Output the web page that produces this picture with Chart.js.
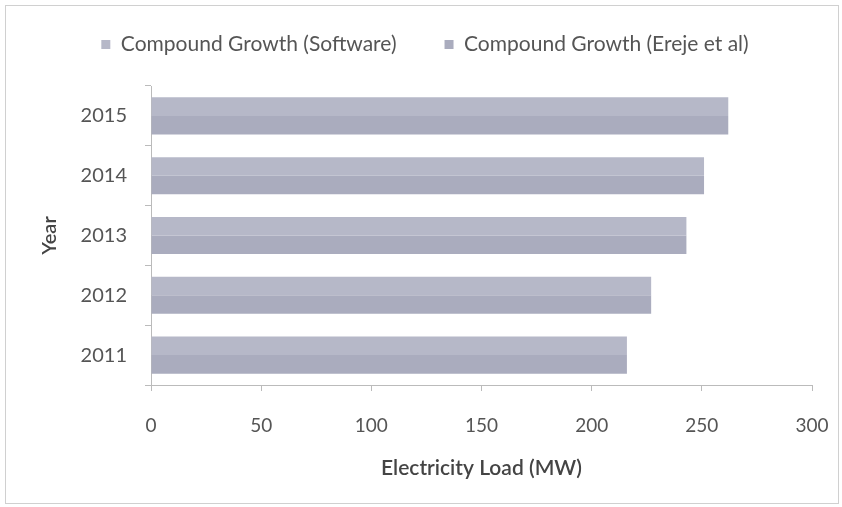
<!DOCTYPE html>
<html>
<head>
<meta charset="utf-8">
<script src="https://cdn.jsdelivr.net/npm/chart.js@4.4.1/dist/chart.umd.min.js"></script>
<style>
  html, body { margin: 0; padding: 0; background: #fff; }
  #wrap { width: 842px; height: 507px; position: relative; }
</style>
</head>
<body>
<div id="wrap"><canvas id="loadChart" width="842" height="507"></canvas></div>
<script>
// Data
const years = ['2011', '2012', '2013', '2014', '2015'];
const softwareLoad = [216, 227, 243, 251, 262];
const erejeLoad = [216, 227, 243, 251, 262];
const xTicks = [0, 50, 100, 150, 200, 250, 300];

const fontFamily = 'Lato, "Open Sans", sans-serif';

// faint frame round the whole chart, as in the scan
const framePlugin = {
    id: 'frame',
    beforeDraw(chart) {
        const ctx = chart.ctx;
        ctx.save();
        ctx.fillStyle = '#ffffff';
        ctx.fillRect(0, 0, chart.width, chart.height);
        ctx.strokeStyle = '#d0d0d0';
        ctx.lineWidth = 1;
        ctx.strokeRect(5.5, 5.5, chart.width - 9, chart.height - 9);
        ctx.restore();
    }
};

// more room between the legend and the bars
const legendGapPlugin = {
    id: 'legendGap',
    beforeInit(chart) {
        const origFit = chart.legend.fit;
        chart.legend.fit = function() {
            origFit.bind(chart.legend)();
            this.height += 21;
        };
    }
};

const ctx = document.getElementById('loadChart').getContext('2d');
const chart = new Chart(ctx, {
    type: 'bar',
    data: {
        labels: years,
        datasets: [{
            label: 'Compound Growth (Software)',
            data: softwareLoad,
            backgroundColor: 'rgba(182, 184, 200, 1)',
            borderWidth: 0
        }, {
            label: 'Compound Growth (Ereje et al)',
            data: erejeLoad,
            backgroundColor: 'rgba(170, 172, 190, 1)',
            borderWidth: 0
        }]
    },
    options: {
        indexAxis: 'y',
        responsive: false,
        animation: false,
        layout: {
            padding: { left: 38, right: 30, top: -14, bottom: 26 }
        },
        datasets: {
            bar: { categoryPercentage: 0.62, barPercentage: 1.0 }
        },
        scales: {
            x: {
                min: 0,
                max: 300,
                afterBuildTicks: function(scale) {
                    scale.ticks = xTicks.map(v => ({ value: v }));
                },
                afterFit: function(scale) {
                    scale.height = 96;
                    scale.paddingRight = 0;
                },
                grid: {
                    drawOnChartArea: false,
                    color: '#bbbbbb',
                    tickLength: 6
                },
                border: { color: '#bbbbbb' },
                ticks: {
                    padding: 23,
                    color: '#555',
                    font: { family: fontFamily, size: 19 }
                },
                title: {
                    display: true,
                    text: 'Electricity Load (MW)',
                    color: '#444',
                    padding: { top: 0, bottom: 0 },
                    font: { family: fontFamily, size: 21, weight: '600' }
                }
            },
            y: {
                reverse: true,
                afterFit: function(scale) { scale.width = 113; },
                grid: {
                    drawOnChartArea: false,
                    color: '#bbbbbb',
                    tickLength: 6
                },
                border: { color: '#bbbbbb' },
                ticks: {
                    padding: 18,
                    color: '#555',
                    font: { family: fontFamily, size: 20 }
                },
                title: {
                    display: true,
                    text: 'Year',
                    color: '#444',
                    padding: 0,
                    font: { family: fontFamily, size: 20, weight: '600' }
                }
            }
        },
        plugins: {
            legend: {
                position: 'top',
                labels: {
                    boxWidth: 9,
                    boxHeight: 9,
                    padding: 48,
                    color: '#555',
                    font: { family: fontFamily, size: 21 }
                }
            },
            tooltip: { enabled: false }
        }
    },
    plugins: [framePlugin, legendGapPlugin]
});
</script>
</body>
</html>
